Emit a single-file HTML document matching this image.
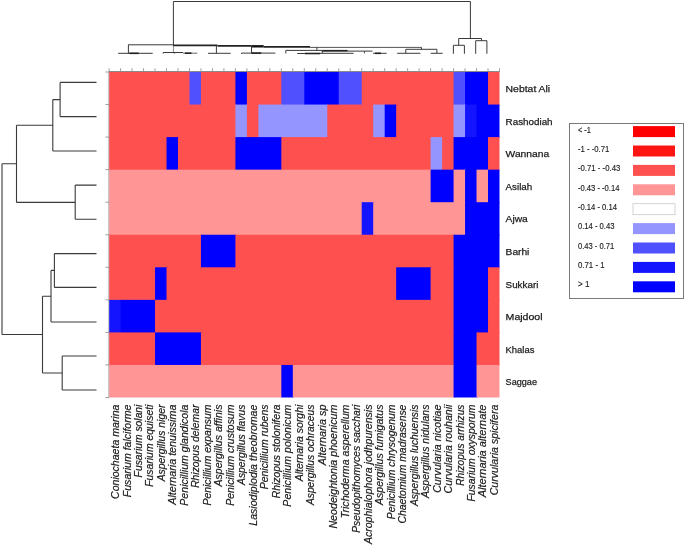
<!DOCTYPE html><html><head><meta charset="utf-8"><style>html,body{margin:0;padding:0;background:#fff;width:685px;height:546px;overflow:hidden}svg{display:block}text{font-family:"Liberation Sans",sans-serif}</style></head><body>
<svg width="685" height="546" viewBox="0 0 685 546">
<g>
<rect x="109.10" y="72.00" width="81.38" height="33.55" fill="#ff5050"/>
<rect x="189.48" y="72.00" width="12.48" height="33.55" fill="#5050ff"/>
<rect x="200.96" y="72.00" width="35.45" height="33.55" fill="#ff5050"/>
<rect x="235.41" y="72.00" width="12.48" height="33.55" fill="#0000ff"/>
<rect x="246.89" y="72.00" width="35.45" height="33.55" fill="#ff5050"/>
<rect x="281.34" y="72.00" width="23.96" height="33.55" fill="#5050ff"/>
<rect x="304.30" y="72.00" width="35.45" height="33.55" fill="#0000ff"/>
<rect x="338.75" y="72.00" width="23.96" height="33.55" fill="#5050ff"/>
<rect x="361.71" y="72.00" width="92.86" height="33.55" fill="#ff5050"/>
<rect x="453.57" y="72.00" width="12.48" height="33.55" fill="#5050ff"/>
<rect x="465.05" y="72.00" width="23.96" height="33.55" fill="#0000ff"/>
<rect x="488.02" y="72.00" width="11.48" height="33.55" fill="#ff5050"/>
<rect x="109.10" y="104.55" width="127.31" height="33.55" fill="#ff5050"/>
<rect x="235.41" y="104.55" width="12.48" height="33.55" fill="#9595ff"/>
<rect x="246.89" y="104.55" width="12.48" height="33.55" fill="#ff5050"/>
<rect x="258.37" y="104.55" width="69.89" height="33.55" fill="#9595ff"/>
<rect x="327.26" y="104.55" width="46.93" height="33.55" fill="#ff5050"/>
<rect x="373.19" y="104.55" width="12.48" height="33.55" fill="#9595ff"/>
<rect x="384.68" y="104.55" width="12.48" height="33.55" fill="#0000ff"/>
<rect x="396.16" y="104.55" width="58.41" height="33.55" fill="#ff5050"/>
<rect x="453.57" y="104.55" width="12.48" height="33.55" fill="#9595ff"/>
<rect x="465.05" y="104.55" width="12.48" height="33.55" fill="#1414ff"/>
<rect x="476.54" y="104.55" width="22.96" height="33.55" fill="#0000ff"/>
<rect x="109.10" y="137.10" width="58.41" height="33.55" fill="#ff5050"/>
<rect x="166.51" y="137.10" width="12.48" height="33.55" fill="#0000ff"/>
<rect x="177.99" y="137.10" width="58.41" height="33.55" fill="#ff5050"/>
<rect x="235.41" y="137.10" width="46.93" height="33.55" fill="#0000ff"/>
<rect x="281.34" y="137.10" width="150.27" height="33.55" fill="#ff5050"/>
<rect x="430.61" y="137.10" width="12.48" height="33.55" fill="#9595ff"/>
<rect x="442.09" y="137.10" width="12.48" height="33.55" fill="#ff5050"/>
<rect x="453.57" y="137.10" width="35.45" height="33.55" fill="#0000ff"/>
<rect x="488.02" y="137.10" width="11.48" height="33.55" fill="#ff5050"/>
<rect x="109.10" y="169.65" width="322.51" height="33.55" fill="#ff9595"/>
<rect x="430.61" y="169.65" width="23.96" height="33.55" fill="#0000ff"/>
<rect x="453.57" y="169.65" width="12.48" height="33.55" fill="#ff9595"/>
<rect x="465.05" y="169.65" width="12.48" height="33.55" fill="#0000ff"/>
<rect x="476.54" y="169.65" width="12.48" height="33.55" fill="#ff9595"/>
<rect x="488.02" y="169.65" width="11.48" height="33.55" fill="#0000ff"/>
<rect x="109.10" y="202.20" width="253.61" height="33.55" fill="#ff9595"/>
<rect x="361.71" y="202.20" width="12.48" height="33.55" fill="#1414ff"/>
<rect x="373.19" y="202.20" width="92.86" height="33.55" fill="#ff9595"/>
<rect x="465.05" y="202.20" width="34.45" height="33.55" fill="#0000ff"/>
<rect x="109.10" y="234.75" width="92.86" height="33.55" fill="#ff5050"/>
<rect x="200.96" y="234.75" width="35.45" height="33.55" fill="#0000ff"/>
<rect x="235.41" y="234.75" width="219.16" height="33.55" fill="#ff5050"/>
<rect x="453.57" y="234.75" width="45.93" height="33.55" fill="#0000ff"/>
<rect x="109.10" y="267.30" width="46.93" height="33.55" fill="#ff5050"/>
<rect x="155.03" y="267.30" width="12.48" height="33.55" fill="#0000ff"/>
<rect x="166.51" y="267.30" width="230.65" height="33.55" fill="#ff5050"/>
<rect x="396.16" y="267.30" width="35.45" height="33.55" fill="#0000ff"/>
<rect x="430.61" y="267.30" width="23.96" height="33.55" fill="#ff5050"/>
<rect x="453.57" y="267.30" width="35.45" height="33.55" fill="#0000ff"/>
<rect x="488.02" y="267.30" width="11.48" height="33.55" fill="#ff5050"/>
<rect x="109.10" y="299.85" width="12.48" height="33.55" fill="#1414ff"/>
<rect x="120.58" y="299.85" width="35.45" height="33.55" fill="#0000ff"/>
<rect x="155.03" y="299.85" width="299.54" height="33.55" fill="#ff5050"/>
<rect x="453.57" y="299.85" width="35.45" height="33.55" fill="#0000ff"/>
<rect x="488.02" y="299.85" width="11.48" height="33.55" fill="#ff5050"/>
<rect x="109.10" y="332.40" width="46.93" height="33.55" fill="#ff5050"/>
<rect x="155.03" y="332.40" width="46.93" height="33.55" fill="#0000ff"/>
<rect x="200.96" y="332.40" width="253.61" height="33.55" fill="#ff5050"/>
<rect x="453.57" y="332.40" width="23.96" height="33.55" fill="#0000ff"/>
<rect x="476.54" y="332.40" width="22.96" height="33.55" fill="#ff5050"/>
<rect x="109.10" y="364.95" width="173.24" height="32.55" fill="#ff9595"/>
<rect x="281.34" y="364.95" width="12.48" height="32.55" fill="#0000ff"/>
<rect x="292.82" y="364.95" width="161.75" height="32.55" fill="#ff9595"/>
<rect x="453.57" y="364.95" width="23.96" height="32.55" fill="#0000ff"/>
<rect x="476.54" y="364.95" width="22.96" height="32.55" fill="#ff9595"/>
</g>
<g stroke="#8a8a8a" stroke-width="0.8" fill="none">
<path d="M109.10 71.55H499.50" stroke="#767676" stroke-width="0.9"/>
<path d="M108.70 72.00V397.50" stroke="#a8a8a8"/>
<path d="M109.10 68.2V72.00M120.58 68.2V72.00M132.06 68.2V72.00M143.55 68.2V72.00M155.03 68.2V72.00M166.51 68.2V72.00M177.99 68.2V72.00M189.48 68.2V72.00M200.96 68.2V72.00M212.44 68.2V72.00M223.92 68.2V72.00M235.41 68.2V72.00M246.89 68.2V72.00M258.37 68.2V72.00M269.85 68.2V72.00M281.34 68.2V72.00M292.82 68.2V72.00M304.30 68.2V72.00M315.78 68.2V72.00M327.26 68.2V72.00M338.75 68.2V72.00M350.23 68.2V72.00M361.71 68.2V72.00M373.19 68.2V72.00M384.68 68.2V72.00M396.16 68.2V72.00M407.64 68.2V72.00M419.12 68.2V72.00M430.61 68.2V72.00M442.09 68.2V72.00M453.57 68.2V72.00M465.05 68.2V72.00M476.54 68.2V72.00M488.02 68.2V72.00M499.50 68.2V72.00M105.3 72.00H109.10M105.3 104.55H109.10M105.3 137.10H109.10M105.3 169.65H109.10M105.3 202.20H109.10M105.3 234.75H109.10M105.3 267.30H109.10M105.3 299.85H109.10M105.3 332.40H109.10M105.3 364.95H109.10M105.3 397.50H109.10"/>
</g>
<g font-size="9.8" fill="#1a1a1a" stroke="#1a1a1a" stroke-width="0.25" style="filter:grayscale(1)">
<text x="505.6" y="92.28" textLength="44.6" lengthAdjust="spacingAndGlyphs">Nebtat Ali</text>
<text x="505.6" y="124.82" textLength="47.0" lengthAdjust="spacingAndGlyphs">Rashodiah</text>
<text x="505.6" y="157.38" textLength="43.6" lengthAdjust="spacingAndGlyphs">Wannana</text>
<text x="505.6" y="189.92" textLength="26.6" lengthAdjust="spacingAndGlyphs">Asilah</text>
<text x="505.6" y="222.47" textLength="22.2" lengthAdjust="spacingAndGlyphs">Ajwa</text>
<text x="505.6" y="255.02" textLength="23.8" lengthAdjust="spacingAndGlyphs">Barhi</text>
<text x="505.6" y="287.57" textLength="32.8" lengthAdjust="spacingAndGlyphs">Sukkari</text>
<text x="505.6" y="320.12" textLength="37.0" lengthAdjust="spacingAndGlyphs">Majdool</text>
<text x="505.6" y="352.67" textLength="28.8" lengthAdjust="spacingAndGlyphs">Khalas</text>
<text x="505.6" y="385.22" textLength="31.4" lengthAdjust="spacingAndGlyphs">Saggae</text>
</g>
<g font-size="10.5" font-style="italic" fill="#1a1a1a" stroke="#1a1a1a" stroke-width="0.2" text-anchor="end" style="filter:grayscale(1)">
<text transform="translate(119.04 404.6) rotate(-90)" textLength="94.37" lengthAdjust="spacingAndGlyphs">Coniochaeta marina</text>
<text transform="translate(130.52 404.6) rotate(-90)" textLength="92.6" lengthAdjust="spacingAndGlyphs">Fusarium falciforme</text>
<text transform="translate(142.01 404.6) rotate(-90)" textLength="72.82" lengthAdjust="spacingAndGlyphs">Fusarium solani</text>
<text transform="translate(153.49 404.6) rotate(-90)" textLength="82.27" lengthAdjust="spacingAndGlyphs">Fusarium equiseti</text>
<text transform="translate(164.97 404.6) rotate(-90)" textLength="76.74" lengthAdjust="spacingAndGlyphs">Aspergillus niger</text>
<text transform="translate(176.45 404.6) rotate(-90)" textLength="100.15" lengthAdjust="spacingAndGlyphs">Alternaria tenuissima</text>
<text transform="translate(187.94 404.6) rotate(-90)" textLength="101.09" lengthAdjust="spacingAndGlyphs">Penicillium glandicola</text>
<text transform="translate(199.42 404.6) rotate(-90)" textLength="83.24" lengthAdjust="spacingAndGlyphs">Rhizopus delemar</text>
<text transform="translate(210.90 404.6) rotate(-90)" textLength="100.96" lengthAdjust="spacingAndGlyphs">Penicillium expansum</text>
<text transform="translate(222.38 404.6) rotate(-90)" textLength="81.9" lengthAdjust="spacingAndGlyphs">Aspergillus affinis</text>
<text transform="translate(233.86 404.6) rotate(-90)" textLength="101.23" lengthAdjust="spacingAndGlyphs">Penicillium crustosum</text>
<text transform="translate(245.35 404.6) rotate(-90)" textLength="80.4" lengthAdjust="spacingAndGlyphs">Aspergillus flavus</text>
<text transform="translate(256.83 404.6) rotate(-90)" textLength="121.16" lengthAdjust="spacingAndGlyphs">Lasiodiplodia theobromae</text>
<text transform="translate(268.31 404.6) rotate(-90)" textLength="84.62" lengthAdjust="spacingAndGlyphs">Penicillium rubens</text>
<text transform="translate(279.79 404.6) rotate(-90)" textLength="93.54" lengthAdjust="spacingAndGlyphs">Rhizopus stolonifera</text>
<text transform="translate(291.28 404.6) rotate(-90)" textLength="102.07" lengthAdjust="spacingAndGlyphs">Penicillium polonicum</text>
<text transform="translate(302.76 404.6) rotate(-90)" textLength="76.75" lengthAdjust="spacingAndGlyphs">Alternaria sorghi</text>
<text transform="translate(314.24 404.6) rotate(-90)" textLength="100.52" lengthAdjust="spacingAndGlyphs">Aspergillus ochraceus</text>
<text transform="translate(325.72 404.6) rotate(-90)" textLength="60.55" lengthAdjust="spacingAndGlyphs">Alternaria sp</text>
<text transform="translate(337.21 404.6) rotate(-90)" textLength="124.01" lengthAdjust="spacingAndGlyphs">Neodeightonia phoenicum</text>
<text transform="translate(348.69 404.6) rotate(-90)" textLength="113.63" lengthAdjust="spacingAndGlyphs">Trichoderma asperellum</text>
<text transform="translate(360.17 404.6) rotate(-90)" textLength="128.25" lengthAdjust="spacingAndGlyphs">Pseudopithomyces sacchari</text>
<text transform="translate(371.65 404.6) rotate(-90)" textLength="139.53" lengthAdjust="spacingAndGlyphs">Acrophialophora jodhpurensis</text>
<text transform="translate(383.14 404.6) rotate(-90)" textLength="100.4" lengthAdjust="spacingAndGlyphs">Aspergillus fumigatus</text>
<text transform="translate(394.62 404.6) rotate(-90)" textLength="114.54" lengthAdjust="spacingAndGlyphs">Penicillium chrysogenum</text>
<text transform="translate(406.10 404.6) rotate(-90)" textLength="119.02" lengthAdjust="spacingAndGlyphs">Chaetomium madrasense</text>
<text transform="translate(417.58 404.6) rotate(-90)" textLength="101.5" lengthAdjust="spacingAndGlyphs">Aspergillus luchuensis</text>
<text transform="translate(429.06 404.6) rotate(-90)" textLength="93.3" lengthAdjust="spacingAndGlyphs">Aspergillus nidulans</text>
<text transform="translate(440.55 404.6) rotate(-90)" textLength="88.27" lengthAdjust="spacingAndGlyphs">Curvularia nicotiae</text>
<text transform="translate(452.03 404.6) rotate(-90)" textLength="88.84" lengthAdjust="spacingAndGlyphs">Curvularia rouhanii</text>
<text transform="translate(463.51 404.6) rotate(-90)" textLength="81.15" lengthAdjust="spacingAndGlyphs">Rhizopus arrhizus</text>
<text transform="translate(474.99 404.6) rotate(-90)" textLength="96.93" lengthAdjust="spacingAndGlyphs">Fusarium oxysporum</text>
<text transform="translate(486.48 404.6) rotate(-90)" textLength="92.62" lengthAdjust="spacingAndGlyphs">Alternaria alternate</text>
<text transform="translate(497.96 404.6) rotate(-90)" textLength="90.77" lengthAdjust="spacingAndGlyphs">Curvularia spicifera</text>
</g>
<rect x="569.5" y="123.5" width="114" height="175" fill="#fff" stroke="#7a7a7a" stroke-width="1"/>
<rect x="633" y="126.10" width="42" height="11" fill="#ff0000"/>
<rect x="633" y="145.50" width="42" height="11" fill="#ff1414"/>
<rect x="633" y="164.90" width="42" height="11" fill="#ff5050"/>
<rect x="633" y="184.30" width="42" height="11" fill="#ff9595"/>
<rect x="633" y="203.70" width="42" height="11" fill="#ffffff" stroke="#c8c8c8" stroke-width="0.8"/>
<rect x="633" y="223.10" width="42" height="11" fill="#9595ff"/>
<rect x="633" y="242.50" width="42" height="11" fill="#5050ff"/>
<rect x="633" y="261.90" width="42" height="11" fill="#1414ff"/>
<rect x="633" y="281.30" width="42" height="11" fill="#0000ff"/>
<g font-size="8.5" fill="#222" stroke="#222" stroke-width="0.15" style="filter:grayscale(1)">
<text x="577.9" y="132.50" textLength="13.1" lengthAdjust="spacingAndGlyphs">< -1</text>
<text x="577.9" y="151.85" textLength="31.400000000000002" lengthAdjust="spacingAndGlyphs">-1 - -0.71</text>
<text x="577.9" y="171.20" textLength="42.4" lengthAdjust="spacingAndGlyphs">-0.71 - -0.43</text>
<text x="577.9" y="190.55" textLength="41.6" lengthAdjust="spacingAndGlyphs">-0.43 - -0.14</text>
<text x="577.9" y="209.90" textLength="39.1" lengthAdjust="spacingAndGlyphs">-0.14 - 0.14</text>
<text x="577.9" y="229.25" textLength="36.6" lengthAdjust="spacingAndGlyphs">0.14 - 0.43</text>
<text x="577.9" y="248.60" textLength="36.4" lengthAdjust="spacingAndGlyphs">0.43 - 0.71</text>
<text x="577.9" y="267.95" textLength="26.700000000000003" lengthAdjust="spacingAndGlyphs">0.71 - 1</text>
<text x="577.9" y="287.30" textLength="11.6" lengthAdjust="spacingAndGlyphs">> 1</text>
</g>
<path d="M60.1 82.4H96.5M60.1 116.6H96.5M60.1 82.4V116.6M52.8 99.6H60.1M52.8 151H96.5M52.8 99.6V151M16.5 125.2H52.8M75.2 185.1H96.5M75.2 219.3H96.5M75.2 185.1V219.3M16.5 202.4H75.2M16.5 125.2V202.4M2 163.7H16.5M54.4 253.6H96.5M54.4 287.4H96.5M54.4 253.6V287.4M51 270.4H54.4M51 322H96.5M51 270.4V322M42.5 296.3H51M62.2 356H96.5M62.2 390H96.5M62.2 356V390M42.5 373H62.2M42.5 296.3V373M2 334.5H42.5M2 163.7V334.5" stroke="#3a3a3a" stroke-width="1.1" fill="none"/>
<path d="M173.4 1.5H470.4" stroke="#3a3a3a" stroke-width="1.0" fill="none"/>
<path d="M173.4 1.5V45" stroke="#3a3a3a" stroke-width="1.0" fill="none"/>
<path d="M173.4 45V52" stroke="#8a8a8a" stroke-width="1.0" fill="none"/>
<path d="M470.4 1.5V38.5" stroke="#3a3a3a" stroke-width="1.0" fill="none"/>
<path d="M458.7 38.5H481.5" stroke="#3a3a3a" stroke-width="1.0" fill="none"/>
<path d="M458.7 38.5V45.3" stroke="#3a3a3a" stroke-width="1.0" fill="none"/>
<path d="M453.4 45.3H464.4" stroke="#3a3a3a" stroke-width="1.0" fill="none"/>
<path d="M453.4 45.3V53.8" stroke="#3a3a3a" stroke-width="1.0" fill="none"/>
<path d="M464.4 45.3V53.8" stroke="#3a3a3a" stroke-width="1.0" fill="none"/>
<path d="M481.5 38.5V40.7" stroke="#3a3a3a" stroke-width="1.0" fill="none"/>
<path d="M475.7 40.7H486.9" stroke="#3a3a3a" stroke-width="1.0" fill="none"/>
<path d="M475.7 40.7V53.8" stroke="#3a3a3a" stroke-width="1.0" fill="none"/>
<path d="M486.9 40.7V53.8" stroke="#3a3a3a" stroke-width="1.0" fill="none"/>
<path d="M128.4 44.8H173.4" stroke="#3a3a3a" stroke-width="1.0" fill="none"/>
<path d="M128.4 44.6V53.3" stroke="#3a3a3a" stroke-width="1.0" fill="none"/>
<path d="M118.2 53.3H152.7" stroke="#3a3a3a" stroke-width="1.0" fill="none"/>
<path d="M129.3 53.3H138.8" stroke="#222" stroke-width="1.6" fill="none"/>
<path d="M173.2 45.3H217.5" stroke="#222" stroke-width="1.8" fill="none"/>
<path d="M217.5 45.9H251.7" stroke="#222" stroke-width="1.8" fill="none"/>
<path d="M251.7 46.3H263.7" stroke="#111" stroke-width="2.4" fill="none"/>
<path d="M263.7 46.8H310" stroke="#222" stroke-width="1.8" fill="none"/>
<path d="M310 47.4H421.5" stroke="#555" stroke-width="1.0" fill="none"/>
<path d="M421.5 47.4V49.3" stroke="#3a3a3a" stroke-width="1.0" fill="none"/>
<path d="M405.8 49.3H436.9" stroke="#3a3a3a" stroke-width="1.0" fill="none"/>
<path d="M405.8 49.3V53.3" stroke="#3a3a3a" stroke-width="1.0" fill="none"/>
<path d="M436.9 49.3V53.3" stroke="#3a3a3a" stroke-width="1.0" fill="none"/>
<path d="M397.2 53.3H420.4" stroke="#3a3a3a" stroke-width="1.0" fill="none"/>
<path d="M430.7 53.3H442.7" stroke="#3a3a3a" stroke-width="1.0" fill="none"/>
<path d="M163.2 52.5H183.1" stroke="#3a3a3a" stroke-width="1.0" fill="none"/>
<path d="M163.2 52.5V53.6" stroke="#3a3a3a" stroke-width="1.0" fill="none"/>
<path d="M174.3 52.5V53.6" stroke="#3a3a3a" stroke-width="1.0" fill="none"/>
<path d="M183.1 53.2H197.3" stroke="#666" stroke-width="1.0" fill="none"/>
<path d="M184.9 53.2H191.5" stroke="#222" stroke-width="1.6" fill="none"/>
<path d="M216.4 45.5V53.3" stroke="#3a3a3a" stroke-width="1.0" fill="none"/>
<path d="M208 53.3H230.7" stroke="#3a3a3a" stroke-width="1.0" fill="none"/>
<path d="M251.5 46V53.3" stroke="#3a3a3a" stroke-width="1.0" fill="none"/>
<path d="M241.5 53.1H275.4" stroke="#3a3a3a" stroke-width="1.0" fill="none"/>
<path d="M251.5 53.1H261.2" stroke="#222" stroke-width="1.6" fill="none"/>
<path d="M241.5 53.1V54" stroke="#3a3a3a" stroke-width="1.0" fill="none"/>
<path d="M285.8 50.4V53.5" stroke="#3a3a3a" stroke-width="1.0" fill="none"/>
<path d="M285.8 50.4H322.3" stroke="#3a3a3a" stroke-width="1.0" fill="none"/>
<path d="M316.9 47.3V50.4" stroke="#3a3a3a" stroke-width="1.0" fill="none"/>
<path d="M297.2 53.5H320.1" stroke="#3a3a3a" stroke-width="1.0" fill="none"/>
<path d="M305 53.5H320.1" stroke="#222" stroke-width="1.6" fill="none"/>
<path d="M322.2 50.6V53.3" stroke="#3a3a3a" stroke-width="1.0" fill="none"/>
<path d="M322.2 50.8H347.7" stroke="#222" stroke-width="1.8" fill="none"/>
<path d="M347.7 51.1H372.4" stroke="#3a3a3a" stroke-width="1.0" fill="none"/>
<path d="M364.4 51.3V53.3" stroke="#3a3a3a" stroke-width="1.0" fill="none"/>
<path d="M320 53.3H353.6" stroke="#3a3a3a" stroke-width="1.0" fill="none"/>
<path d="M373.1 53.3H386.6" stroke="#3a3a3a" stroke-width="1.0" fill="none"/>
<path d="M375 53.3H381" stroke="#222" stroke-width="1.6" fill="none"/>
</svg></body></html>
